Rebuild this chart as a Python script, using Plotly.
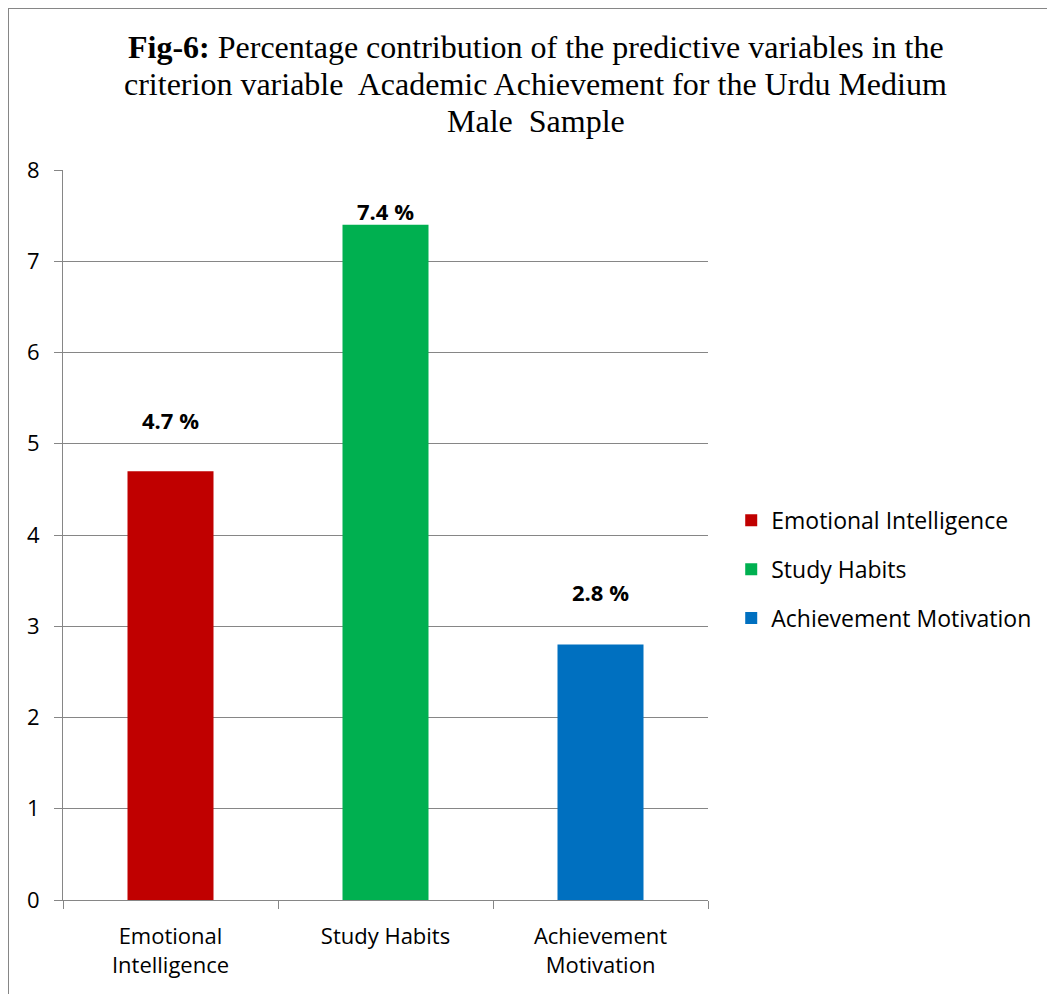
import plotly.graph_objects as go

# Данные графика
categories = ["Emotional Intelligence", "Study Habits", "Achievement Motivation"]
tick_labels = ["Emotional<br>Intelligence", "Study Habits", "Achievement<br>Motivation"]
values = [4.7, 7.4, 2.8]
value_labels = ["4.7 %", "7.4 %", "2.8 %"]
colors = ["#C00000", "#00B050", "#0070C0"]

title_lines = [
    "<b>Fig-6:</b> Percentage contribution of the predictive variables in the",
    "criterion variable  Academic Achievement for the Urdu Medium",
    "Male  Sample",
]

# Смещение подписей над столбцами (в пикселях)
label_shift = [51, 14, 53]

GRID = "#868686"
SANS = "Open Sans"

# Геометрия области построения (px)
L, T, PW, PH = 55, 162, 645, 730
W, H = 1047, 986

fig = go.Figure()

for i, cat in enumerate(categories):
    fig.add_trace(go.Bar(
        x=[cat],
        y=[values[i]],
        name=cat,
        marker=dict(color=colors[i], line=dict(width=0)),
        width=0.4,
        legendgroup=cat,
    ))
    fig.add_annotation(
        x=cat, y=values[i],
        text="<b>" + value_labels[i] + "</b>",
        showarrow=False,
        yanchor="middle",
        yshift=label_shift[i],
        font=dict(family=SANS, size=22, color="black"),
    )

# Заголовок, построчно
for k, line in enumerate(title_lines):
    y_px = 39 + 37 * k
    fig.add_annotation(
        text=line,
        xref="paper", yref="paper",
        x=0.733, y=1 + (T - y_px) / PH,
        xanchor="center", yanchor="middle",
        showarrow=False,
        font=dict(family="Liberation Serif", size=32, color="black"),
    )

# Рамка вокруг графика (верх и лево)
bx = (0 - L) / PW
by = 1 + (T - 0) / PH
fig.add_shape(type="line", xref="paper", yref="paper",
              x0=bx, x1=1.8, y0=by, y1=by,
              line=dict(color=GRID, width=2))
fig.add_shape(type="line", xref="paper", yref="paper",
              x0=bx, x1=bx, y0=by, y1=-0.3,
              line=dict(color=GRID, width=2))

fig.update_layout(
    width=W,
    height=H,
    barmode="overlay",
    plot_bgcolor="white",
    paper_bgcolor="white",
    margin=dict(l=L, r=W - L - PW, t=T, b=H - T - PH),
    showlegend=True,
    legend=dict(
        x=1.036, y=0.453,
        xanchor="left", yanchor="middle",
        font=dict(family=SANS, size=23, color="black"),
        tracegroupgap=16,
        itemwidth=30,
    ),
)

fig.update_xaxes(
    type="category",
    tickvals=categories,
    ticktext=tick_labels,
    tickson="boundaries",
    ticks="outside",
    ticklen=8,
    tickcolor=GRID,
    tickwidth=1,
    ticklabelstandoff=17,
    showline=True,
    linecolor=GRID,
    linewidth=1,
    showgrid=False,
    tickfont=dict(family=SANS, size=22, color="black"),
)

fig.update_yaxes(
    range=[0, 8],
    dtick=1,
    ticks="outside",
    ticklen=8,
    tickcolor=GRID,
    ticklabelstandoff=10,
    showline=True,
    linecolor=GRID,
    linewidth=1,
    showgrid=True,
    gridcolor=GRID,
    gridwidth=1,
    zeroline=False,
    tickfont=dict(family=SANS, size=22, color="black"),
)

fig.write_html("out.html")
